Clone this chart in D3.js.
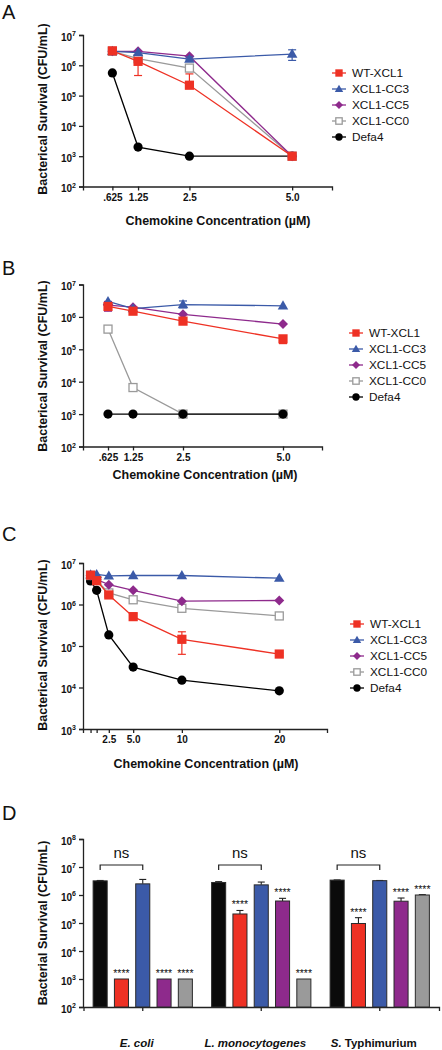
<!DOCTYPE html>
<html><head><meta charset="utf-8">
<script src="https://cdn.jsdelivr.net/npm/d3@7"></script>
<style>
body{margin:0;background:#fff;}
svg{display:block;font-family:"Liberation Sans",Arial,Helvetica,sans-serif;}
</style></head>
<body>
<svg id="chart" width="442" height="1050"></svg>
<script>
// ---------- DATA ----------
const seriesNames = ["WT-XCL1", "XCL1-CC3", "XCL1-CC5", "XCL1-CC0", "Defa4"];

// Panel A
const concA = [0.625, 1.25, 2.5, 5.0];
const concALabels = [".625", "1.25", "2.5", "5.0"];
const wtA   = [3.0e6, 1.35e6, 2.2e5, 1e3];
const cc3A  = [2.9e6, 2.6e6, 1.6e6, 2.35e6];
const cc5A  = [2.9e6, 2.9e6, 2.0e6, 1e3];
const cc0A  = [2.9e6, 1.65e6, 8.1e5, 1e3];
const defaA = [5.6e5, 2.0e3, 1.0e3, 1.0e3];
const wtAErr  = [null, [4.6e5, 1.35e6], [2.2e5, 5.2e5], null];
const cc3AErr = [null, null, [1.5e6, 1.9e6], [1.45e6, 3.25e6]];

// Panel B
const concB = [0.625, 1.25, 2.5, 5.0];
const concBLabels = [".625", "1.25", "2.5", "5.0"];
const wtB   = [2.1e6, 1.5e6, 7.4e5, 2.1e5];
const cc3B  = [3.0e6, 1.8e6, 2.4e6, 2.2e6];
const cc5B  = [2.3e6, 2.0e6, 1.2e6, 6.0e5];
const cc0B  = [4.2e5, 6.6e3, 1.0e3, 1.0e3];
const defaB = [1.0e3, 1.0e3, 1.0e3, 1.0e3];
const wtBErr  = [[1.6e6, 2.6e6], null, null, [1.5e5, 2.6e5]];
const cc3BErr = [null, null, [1.9e6, 3.1e6], null];
const cc5BErr = [[1.5e6, 3.0e6], null, null, null];
const cc0BErr = [[3.3e5, 4.2e5], null, null, null];

// Panel C
const concC = [0.625, 1.25, 2.5, 5.0, 10, 20];
const concCTicks = [0.625, 1.25, 2.5, 5.0, 10, 20];
const concCLabels = ["", "", "2.5", "5.0", "10", "20"];
const wtC   = [5.1e6, 3.75e6, 1.7e6, 5.1e5, 1.45e5, 6.4e4];
const cc3C  = [5.2e6, 5.3e6, 4.9e6, 5.0e6, 5.0e6, 4.3e6];
const cc5C  = [5.0e6, 4.0e6, 3.0e6, 2.2e6, 1.2e6, 1.25e6];
const cc0C  = [5.0e6, 3.8e6, 1.9e6, 1.3e6, 8.1e5, 5.3e5];
const defaC = [3.7e6, 2.2e6, 1.85e5, 3.1e4, 1.5e4, 8.3e3];
const wtCErr = [null, null, [1.5e6, 1.9e6], [4.2e5, 6.0e5], [6.3e4, 2.2e5], [5.8e4, 6.8e4]];

// Panel D
const groupsD = ["E. coli", "L. monocytogenes", "S. Typhimurium"];
const barSeriesD = ["Control", "WT-XCL1", "XCL1-CC3", "XCL1-CC5", "XCL1-CC0"];
const controlD = [3.2e6, 2.8e6, 3.4e6];
const wtD      = [1.0e3, 2.1e5, 9.6e4];
const cc3D     = [2.5e6, 2.3e6, 3.25e6];
const cc5D     = [1.0e3, 6.1e5, 6.0e5];
const cc0D     = [1.0e3, 1.0e3, 1.0e6];
const controlDErr = [3.3e6, 3.0e6, 3.45e6];
const wtDErr      = [null, 2.8e5, 1.55e5];
const cc3DErr     = [3.6e6, 2.9e6, 3.3e6];
const cc5DErr     = [null, 7.6e5, 7.8e5];
const cc0DErr     = [null, null, 1.03e6];
const starsD = [[false, true, false, true, true], [false, true, false, true, true], [false, true, false, true, true]];

// ---------- STYLE ----------
const colors = {"WT-XCL1": "#ee3124", "XCL1-CC3": "#3b5aa8", "XCL1-CC5": "#8e2a8c", "XCL1-CC0": "#9a9a9a", "Defa4": "#000000", "Control": "#0b0b0b"};
const barColors = ["#0b0b0b", "#ee3124", "#3b5aa8", "#8e2a8c", "#9a9a9a"];
const shapes = {"WT-XCL1": "square", "XCL1-CC3": "triangle", "XCL1-CC5": "diamond", "XCL1-CC0": "open", "Defa4": "circle"};

const svg = d3.select("#chart");

function drawMarker(g, shape, color, x, y, s) {
  s = s || 1;
  if (shape === "square") {
    g.append("rect").attr("x", x - 4.6*s).attr("y", y - 4.6*s).attr("width", 9.2*s).attr("height", 9.2*s).attr("fill", color);
  } else if (shape === "open") {
    g.append("rect").attr("x", x - 4*s).attr("y", y - 4*s).attr("width", 8*s).attr("height", 8*s).attr("fill", "#fff").attr("stroke", color).attr("stroke-width", 1.3);
  } else if (shape === "triangle") {
    g.append("path").attr("d", d3.symbol(d3.symbolTriangle, 48*s*s)()).attr("transform", `translate(${x},${y+0.6})`).attr("fill", color);
  } else if (shape === "diamond") {
    const r = 5*s;
    g.append("path").attr("d", `M${x},${y-r}L${x+r},${y}L${x},${y+r}L${x-r},${y}Z`).attr("fill", color);
  } else if (shape === "circle") {
    g.append("circle").attr("cx", x).attr("cy", y).attr("r", 4.6*s).attr("fill", color);
  }
}

function logTickLabel(sel, exp) {
  sel.text(null);
  sel.append("tspan").text("10");
  sel.append("tspan").attr("dy", -4.5).attr("font-size", "7px").text(exp);
}

function drawYAxis(y, expMin, expMax, x0) {
  const ticks = d3.range(expMin, expMax + 1).map(e => Math.pow(10, e));
  const ax = svg.append("g").attr("transform", `translate(${x0},0)`)
    .call(d3.axisLeft(y).tickValues(ticks).tickSize(4).tickPadding(3).tickFormat(() => ""));
  ax.select(".domain").attr("stroke", "#222").attr("stroke-width", 1.3);
  ax.selectAll(".tick line").attr("stroke", "#222").attr("stroke-width", 1.3);
  ax.selectAll(".tick text").each(function(d) {
    const t = d3.select(this);
    t.attr("font-size", "10px").attr("font-weight", "bold").attr("fill", "#111").attr("font-family", null).attr("dy", "0.5em");
    logTickLabel(t, Math.round(Math.log10(d)));
  });
  return ax;
}

function drawXAxis(x, y0, ticks, labels) {
  const ax = svg.append("g").attr("transform", `translate(0,${y0})`)
    .call(d3.axisBottom(x).tickValues(ticks).tickSize(4).tickPadding(3).tickFormat((d, i) => labels[i]));
  ax.select(".domain").attr("stroke", "#222").attr("stroke-width", 1.3);
  ax.selectAll(".tick line").attr("stroke", "#222").attr("stroke-width", 1.3);
  ax.selectAll(".tick text").attr("font-size", "10px").attr("font-weight", "bold").attr("fill", "#111").attr("font-family", null);
  return ax;
}

function axisTitles(xCenter, xBase, yX, yCenter, yText) {
  svg.append("text").attr("x", xCenter).attr("y", xBase).attr("text-anchor", "middle")
    .attr("font-size", "12.5px").attr("font-weight", "bold").attr("fill", "#111").text("Chemokine Concentration (µM)");
  svg.append("text").attr("transform", `translate(${yX},${yCenter}) rotate(-90)`).attr("text-anchor", "middle")
    .attr("font-size", "12.5px").attr("font-weight", "bold").attr("fill", "#111").text(yText);
}

function panelLetter(l, x, y) {
  svg.append("text").attr("x", x).attr("y", y).attr("font-size", "20px").attr("fill", "#111").text(l);
}

function drawLegend(lx, ly) {
  seriesNames.forEach((name, i) => {
    const g = svg.append("g");
    const yy = ly + i * 16;
    g.append("line").attr("x1", lx - 7).attr("x2", lx + 7).attr("y1", yy).attr("y2", yy).attr("stroke", colors[name]).attr("stroke-width", 1.3);
    drawMarker(g, shapes[name], colors[name], lx, yy, 0.8);
    g.append("text").attr("x", lx + 13).attr("y", yy + 4).attr("font-size", "11.8px").attr("fill", "#111").text(name);
  });
}

function drawErr(g, x, y, err, color) {
  if (!err) return;
  const [lo, hi] = err;
  g.append("line").attr("x1", x).attr("x2", x).attr("y1", y(lo)).attr("y2", y(hi)).attr("stroke", color).attr("stroke-width", 1.2);
  [lo, hi].forEach(v => g.append("line").attr("x1", x - 4).attr("x2", x + 4).attr("y1", y(v)).attr("y2", y(v)).attr("stroke", color).attr("stroke-width", 1.2));
}

function drawSeries(x, y, conc, vals, name, errs) {
  const g = svg.append("g");
  const color = colors[name];
  const line = d3.line().x((d, i) => x(conc[i])).y(d => y(d));
  g.append("path").attr("d", line(vals)).attr("fill", "none").attr("stroke", color).attr("stroke-width", 1.3);
  if (errs) errs.forEach((e, i) => drawErr(g, x(conc[i]), y, e, color));
  vals.forEach((v, i) => drawMarker(g, shapes[name], color, x(conc[i]), y(v), 1));
}

// ---------- PANEL A ----------
(function() {
  const x = d3.scaleLinear().domain([-0.09, 5.97]).range([83, 332]);
  const y = d3.scaleLog().domain([1e2, 1e7]).range([186.5, 35]);
  drawYAxis(y, 2, 7, 83);
  drawXAxis(x, 186.5, concA, concALabels);
  drawSeries(x, y, concA, defaA, "Defa4");
  drawSeries(x, y, concA, cc0A, "XCL1-CC0");
  drawSeries(x, y, concA, cc5A, "XCL1-CC5");
  drawSeries(x, y, concA, cc3A, "XCL1-CC3", cc3AErr);
  drawSeries(x, y, concA, wtA, "WT-XCL1", wtAErr);
  axisTitles(218, 225, 47, 109, "Bacterical Survival (CFU/mL)");
  panelLetter("A", 2, 19);
  drawLegend(339, 73);
})();

// ---------- PANEL B ----------
(function() {
  const x = d3.scaleLinear().domain([0, 5.975]).range([83, 322]);
  const y = d3.scaleLog().domain([1e2, 1e7]).range([446.5, 284.5]);
  drawYAxis(y, 2, 7, 83);
  drawXAxis(x, 446.5, concB, concBLabels);
  drawSeries(x, y, concB, cc0B, "XCL1-CC0", cc0BErr);
  drawSeries(x, y, concB, defaB, "Defa4");
  drawSeries(x, y, concB, cc5B, "XCL1-CC5", cc5BErr);
  drawSeries(x, y, concB, cc3B, "XCL1-CC3", cc3BErr);
  drawSeries(x, y, concB, wtB, "WT-XCL1", wtBErr);
  axisTitles(205, 479, 47, 366, "Bacterical Survival (CFU/mL)");
  panelLetter("B", 2, 275);
  drawLegend(356, 333);
})();

// ---------- PANEL C ----------
(function() {
  const x = d3.scaleLinear().domain([-0.15, 24.9]).range([83, 327]);
  const y = d3.scaleLog().domain([1e3, 1e7]).range([729, 563]);
  drawYAxis(y, 3, 7, 83);
  drawXAxis(x, 729, concCTicks, concCLabels);
  drawSeries(x, y, concC, defaC, "Defa4");
  drawSeries(x, y, concC, cc0C, "XCL1-CC0");
  drawSeries(x, y, concC, cc5C, "XCL1-CC5");
  drawSeries(x, y, concC, cc3C, "XCL1-CC3");
  drawSeries(x, y, concC, wtC, "WT-XCL1", wtCErr);
  axisTitles(206, 768, 47, 645, "Bacterical Survival (CFU/mL)");
  panelLetter("C", 2, 541);
  drawLegend(357, 624);
})();

// ---------- PANEL D ----------
(function() {
  const y = d3.scaleLog().domain([1e2, 1e8]).range([1007, 839]);
  const xg = d3.scaleBand().domain(groupsD).range([83.5, 439]).padding(0);
  const xi = d3.scaleBand().domain(barSeriesD).range([-53.25, 53.25]).paddingInner(0.34).paddingOuter(0.17);
  drawYAxis(y, 2, 8, 83);
  const ax = svg.append("g").attr("transform", "translate(0,1007)")
    .call(d3.axisBottom(xg).tickSize(4).tickFormat(""));
  ax.select(".domain").attr("stroke", "#222").attr("stroke-width", 1.3);
  ax.selectAll(".tick line").attr("stroke", "#222").attr("stroke-width", 1.3);

  const vals = [controlD, wtD, cc3D, cc5D, cc0D];
  const errs = [controlDErr, wtDErr, cc3DErr, cc5DErr, cc0DErr];
  groupsD.forEach((grp, gi) => {
    const gc = xg(grp) + xg.bandwidth() / 2;
    barSeriesD.forEach((s, si) => {
      const v = vals[si][gi];
      const bx = gc + xi(s);
      const e = errs[si][gi];
      if (e) {
        const cx = bx + xi.bandwidth() / 2;
        svg.append("line").attr("x1", cx).attr("x2", cx).attr("y1", y(v)).attr("y2", y(e)).attr("stroke", "#222").attr("stroke-width", 1.1);
        svg.append("line").attr("x1", cx - 3.5).attr("x2", cx + 3.5).attr("y1", y(e)).attr("y2", y(e)).attr("stroke", "#222").attr("stroke-width", 1.1);
      }
      svg.append("rect").attr("x", bx).attr("y", y(v)).attr("width", xi.bandwidth()).attr("height", y(1e2) - y(v))
        .attr("fill", barColors[si]).attr("stroke", "#2a2a2a").attr("stroke-width", 1);
      if (starsD[gi][si]) {
        const top = y(e || v);
        svg.append("text").attr("x", bx + xi.bandwidth() / 2).attr("y", top - 2).attr("text-anchor", "middle")
          .attr("font-size", "10.5px").attr("fill", "#111").text("****");
      }
    });
    // ns bracket between control and CC3
    const x1 = gc + xi("Control") + xi.bandwidth() / 2;
    const x2 = gc + xi("XCL1-CC3") + xi.bandwidth() / 2;
    svg.append("path").attr("d", `M${x1},870V865H${x2}V870`).attr("fill", "none").attr("stroke", "#222").attr("stroke-width", 1.2);
    svg.append("text").attr("x", (x1 + x2) / 2).attr("y", 858).attr("text-anchor", "middle").attr("font-size", "15px").attr("fill", "#111").text("ns");
  });

  // category labels
  const lab = svg.append("g").attr("font-size", "11.5px").attr("font-weight", "bold").attr("fill", "#111");
  groupsD.forEach((grp, gi) => {
    const gc = xg(grp) + xg.bandwidth() / 2;
    const t = lab.append("text").attr("x", gc - 6).attr("y", 1047).attr("text-anchor", "middle");
    if (grp.startsWith("S. ")) {
      t.append("tspan").attr("font-style", "italic").text("S.");
      t.append("tspan").text(" Typhimurium");
    } else {
      t.attr("font-style", "italic").text(grp);
    }
  });

  svg.append("text").attr("transform", "translate(47,923) rotate(-90)").attr("text-anchor", "middle")
    .attr("font-size", "12.5px").attr("font-weight", "bold").attr("fill", "#111").text("Bacterial Survival (CFU/mL)");
  panelLetter("D", 2, 820);
})();
</script>
</body></html>
